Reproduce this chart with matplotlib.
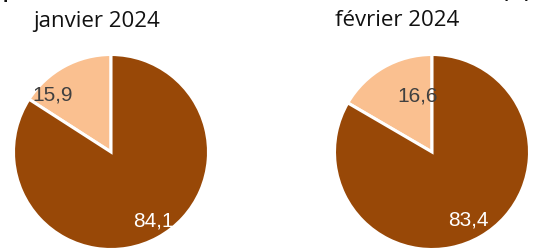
import matplotlib
matplotlib.use("Agg")
import matplotlib.pyplot as plt

# Data
months = ["janvier 2024", "février 2024"]
light_values = [15.9, 16.6]
dark_values = [84.1, 83.4]
label_texts_light = ["15,9", "16,6"]
label_texts_dark = ["84,1", "83,4"]
title_text = "part des commandes livrées à domicile et retirées en lot (%)"

# Style / layout
DARK = "#984807"
LIGHT = "#FAC090"
W, H = 539, 249
centers = [(111, 152), (432, 152)]  # pixels from top-left
radius_px = 97.5
title_pos = [(97, 21), (397, 21)]
light_label_off = [(-0.60, 0.58), (-0.15, 0.57)]
dark_label_off = [(0.43, -0.71), (0.37, -0.70)]

fig = plt.figure(figsize=(W / 100, H / 100), dpi=100)

for i, (cx, cy) in enumerate(centers):
    left = (cx - radius_px) / W
    bottom = (H - cy - radius_px) / H
    ax = fig.add_axes([left, bottom, 2 * radius_px / W, 2 * radius_px / H])
    wedges, _ = ax.pie(
        [light_values[i], dark_values[i]],
        colors=[LIGHT, DARK],
        startangle=90,
        counterclock=True,
        radius=1.0,
        wedgeprops=dict(edgecolor="white", linewidth=2.2),
    )
    for w in wedges:
        w.set_clip_on(False)
    ax.set_xlim(-1, 1)
    ax.set_ylim(-1, 1)
    ax.set_aspect("auto")
    ax.axis("off")
    lx, ly = light_label_off[i]
    ax.text(lx, ly, label_texts_light[i], ha="center", va="center",
            fontsize=15, color="#404040", family="Liberation Sans")
    dx, dy = dark_label_off[i]
    ax.text(dx, dy, label_texts_dark[i], ha="center", va="center",
            fontsize=15, color="white", family="Liberation Sans")
    tx, ty = title_pos[i]
    fig.text(tx / W, 1 - ty / H, months[i], ha="center", va="center",
             fontsize=16, color="#111111", family="Open Sans")

# Main title, mostly above the visible area (only descenders show)
t = fig.text(3 / W, 1 + 1.5 / H, title_text, ha="left", va="baseline",
             fontsize=14, fontweight="bold", color="#111111", family="Open Sans")
fig.canvas.draw()
bb = t.get_window_extent(renderer=fig.canvas.get_renderer())
target = 533.0
t.set_fontsize(14 * target / bb.width)

fig.savefig("out.png", dpi=100)
